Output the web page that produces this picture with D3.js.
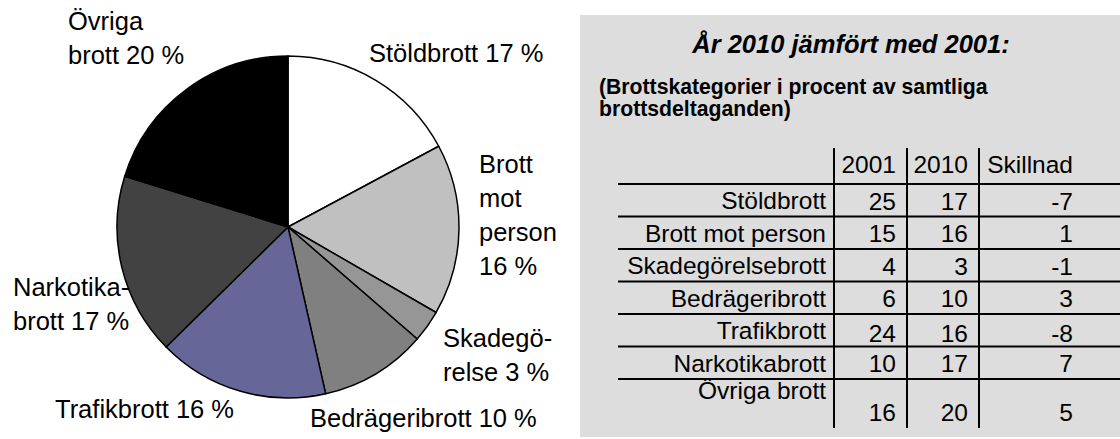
<!DOCTYPE html>
<html>
<head>
<meta charset="utf-8">
<script src="https://cdn.jsdelivr.net/npm/d3@7"></script>
<style>
  body { margin: 0; background: #fff; }
  svg { display: block; font-family: "Liberation Sans", Arial, sans-serif; }
</style>
</head>
<body>
<svg id="chart" width="1120" height="439"></svg>
<script>
// Brottskategorier, 2010 (pie) and 2001/2010 (table)
const categories = ['Stöldbrott', 'Brott mot person', 'Skadegörelsebrott', 'Bedrägeribrott', 'Trafikbrott', 'Narkotikabrott', 'Övriga brott'];
const values2001 = [25, 15, 4, 6, 24, 10, 16];
const values2010 = [17, 16, 3, 10, 16, 17, 20];
const diffs = [-7, 1, -1, 3, -8, 7, 5];
const headers = ['2001', '2010', 'Skillnad'];
const pieLabels = [['Stöldbrott 17 %'], ['Brott', 'mot', 'person', '16 %'], ['Skadegö-', 'relse 3 %'],
                   ['Bedrägeribrott 10 %'], ['Trafikbrott 16 %'], ['Narkotika-', 'brott 17 %'], ['Övriga', 'brott 20 %']];

const colors = ['#ffffff', '#c0c0c0', '#969696', '#808080', '#666699', '#424242', '#000000'];
const labelPos = [[369, 62], [479, 173], [443, 347], [310, 427], [55, 418], [13, 296], [68, 30]];  // text anchors
const lineH = 34;

const svg = d3.select('#chart');

// ---- pie ----
const cx = 288, cy = 227, radius = 171;
const pie = d3.pie().sort(null).value(d => d);
const arc = d3.arc().innerRadius(0).outerRadius(radius);

const gPie = svg.append('g').attr('transform', `translate(${cx},${cy})`);
gPie.selectAll('path')
  .data(pie(values2010))
  .enter()
  .append('path')
  .attr('d', arc)
  .attr('fill', (d, i) => colors[i])
  .attr('stroke', '#000')
  .attr('stroke-width', 1.5)
  .attr('stroke-linejoin', 'round');

const lbl = svg.selectAll('.pielabel')
  .data(pieLabels)
  .enter()
  .append('text')
  .classed('pielabel', true)
  .attr('x', (d, i) => labelPos[i][0])
  .attr('y', (d, i) => labelPos[i][1])
  .attr('font-size', 25.5)
  .attr('fill', '#000');
lbl.selectAll('tspan')
  .data(d => d)
  .enter()
  .append('tspan')
  .attr('x', function() { return this.parentNode.getAttribute('x'); })
  .attr('dy', (d, i) => i === 0 ? 0 : lineH)
  .text(d => d);

// ---- table panel ----
svg.append('rect')
  .attr('x', 580).attr('y', 15)
  .attr('width', 540).attr('height', 422)
  .attr('fill', '#dddddd');

svg.append('text')
  .attr('x', 851).attr('y', 53)
  .attr('text-anchor', 'middle')
  .attr('font-size', 25.5)
  .attr('font-weight', 'bold')
  .attr('font-style', 'italic')
  .text('År 2010 jämfört med 2001:');

svg.append('text')
  .attr('x', 599).attr('y', 94)
  .attr('font-size', 21.2)
  .attr('font-weight', 'bold')
  .selectAll('tspan')
  .data(['(Brottskategorier i procent av samtliga', 'brottsdeltaganden)'])
  .enter()
  .append('tspan')
  .attr('x', 599)
  .attr('dy', (d, i) => i === 0 ? 0 : 22)
  .text(d => d);

// row geometry
const rowY = d3.scaleLinear().domain([0, categories.length - 1]).range([184, 379]);
const tableBottom = 428, headTop = 148;
const colEdges = [834, 907, 979];          // left edges of value columns
const colRight = [896, 968, 1073];         // right-aligned text positions
const rowBottom = i => i < categories.length - 1 ? rowY(i + 1) : tableBottom;
// Excel cell alignment quirks: a few rows have their text anchored differently
const labelBase = i => i === 6 ? rowY(i) + 20 : rowY(i) + 25;
const valueBase = i => i === 4 ? rowBottom(i) - 5 : rowBottom(i) - 7;

const gT = svg.append('g').attr('font-size', 24.5).attr('fill', '#000');

// horizontal rules
gT.selectAll('.hline')
  .data(d3.range(categories.length))
  .enter()
  .append('line')
  .classed('hline', true)
  .attr('x1', 618).attr('x2', 1120)
  .attr('y1', i => rowY(i)).attr('y2', i => rowY(i))
  .attr('stroke', '#000').attr('stroke-width', 2);

// vertical rules
gT.selectAll('.vline')
  .data(colEdges)
  .enter()
  .append('line')
  .classed('vline', true)
  .attr('x1', d => d).attr('x2', d => d)
  .attr('y1', headTop).attr('y2', tableBottom)
  .attr('stroke', '#000').attr('stroke-width', 2);

// header
gT.selectAll('.head')
  .data(headers)
  .enter()
  .append('text')
  .classed('head', true)
  .attr('x', (d, i) => colRight[i])
  .attr('y', 173)
  .attr('text-anchor', 'end')
  .text(d => d);

// row labels
gT.selectAll('.rowlabel')
  .data(categories)
  .enter()
  .append('text')
  .classed('rowlabel', true)
  .attr('x', 826)
  .attr('y', (d, i) => labelBase(i))
  .attr('text-anchor', 'end')
  .text(d => d);

// values
[values2001, values2010, diffs].forEach((col, c) => {
  gT.selectAll('.val' + c)
    .data(col)
    .enter()
    .append('text')
    .classed('val' + c, true)
    .attr('x', colRight[c])
    .attr('y', (d, i) => valueBase(i))
    .attr('text-anchor', 'end')
    .text(d => d);
});
</script>
</body>
</html>
